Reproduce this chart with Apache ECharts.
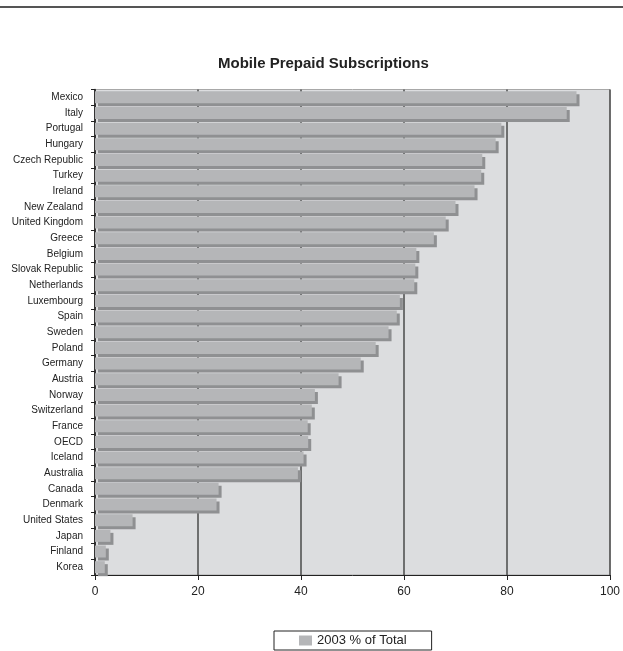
<!DOCTYPE html>
<html>
<head>
<meta charset="utf-8">
<script src="https://cdn.jsdelivr.net/npm/echarts@6/dist/echarts.min.js"></script>
<style>
html,body{margin:0;padding:0;background:#fff;}
#chart{width:623px;height:651px;}
</style>
</head>
<body>
<div id="chart"></div>
<script>
var categories = ["Mexico","Italy","Portugal","Hungary","Czech Republic","Turkey","Ireland","New Zealand","United Kingdom","Greece","Belgium","Slovak Republic","Netherlands","Luxembourg","Spain","Sweden","Poland","Germany","Austria","Norway","Switzerland","France","OECD","Iceland","Australia","Canada","Denmark","United States","Japan","Finland","Korea"];
var values2003 = [93.5,91.6,78.9,77.8,75.2,75.0,73.7,70.0,68.1,65.8,62.4,62.2,62.0,59.2,58.6,57.0,54.5,51.6,47.3,42.7,42.1,41.3,41.4,40.5,39.4,24.0,23.6,7.3,3.0,2.1,1.9];
var xTicks = [0,20,40,60,80,100];
var seriesName = "2003 % of Total";
var titleText = "Mobile Prepaid Subscriptions";

var chart = echarts.init(document.getElementById('chart'), null, {renderer:'canvas'});
chart.setOption({
  animation:false,
  backgroundColor:'#ffffff',
  textStyle:{fontFamily:'Liberation Sans, Arial, sans-serif'},
  graphic:[{type:'rect',left:0,top:6,shape:{width:623,height:2},style:{fill:'#555555'},silent:true}],
  title:{text:titleText,left:218,top:56,padding:0,
    textStyle:{fontSize:15,fontWeight:'bold',color:'#222',fontFamily:'Liberation Sans, Arial, sans-serif'}},
  legend:{left:274,top:631,padding:[3,25,3,25],borderColor:'#222',borderWidth:1,
    itemWidth:13,itemHeight:10,itemGap:10,
    textStyle:{fontSize:13,color:'#222',fontFamily:'Liberation Sans, Arial, sans-serif'},
    data:[{name:seriesName,icon:'rect',itemStyle:{shadowBlur:0,shadowOffsetX:0,shadowOffsetY:0,shadowColor:'transparent'}}]},
  grid:{left:95,right:12,top:89.5,bottom:76,show:true,backgroundColor:'#dcdddf',borderColor:'#a8a8a8',borderWidth:1,containLabel:false},
  xAxis:{type:'value',min:0,max:100,interval:20,
    axisLine:{show:true,lineStyle:{color:'#222',width:1}},
    axisTick:{show:true,length:5,lineStyle:{color:'#222'}},
    axisLabel:{fontSize:12,color:'#222',margin:11,
      formatter:function(v){return xTicks.indexOf(v)>=0?String(v):'';}},
    splitLine:{show:true,lineStyle:{color:'#4a4a4a',width:1.5}}},
  yAxis:{type:'category',data:categories,inverse:true,
    axisLine:{show:true,lineStyle:{color:'#222',width:1.5}},
    axisTick:{show:true,length:4,lineStyle:{color:'#222'}},
    axisLabel:{fontSize:10,color:'#222',margin:12},
    splitLine:{show:false}},
  series:[{type:'bar',name:seriesName,data:values2003,barWidth:12,
    itemStyle:{color:'#b5b6b8',shadowColor:'#8f9092',shadowBlur:0,shadowOffsetX:3,shadowOffsetY:3}}]
});
</script>
</body>
</html>
